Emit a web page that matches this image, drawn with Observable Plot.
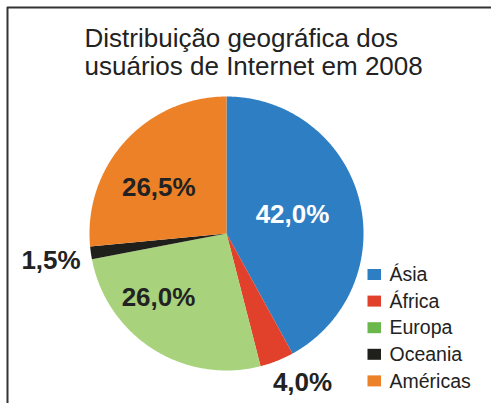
<!DOCTYPE html>
<html>
<head>
<meta charset="utf-8">
<script src="https://cdn.jsdelivr.net/npm/d3@7"></script>
<script src="https://cdn.jsdelivr.net/npm/@observablehq/plot@0.6"></script>
<style>
  html, body { margin: 0; padding: 0; background: #fff; }
  #chart svg { display: block; }
</style>
</head>
<body>
<div id="chart"></div>
<script>
// ---- data ----
const categories = ["Ásia", "África", "Europa", "Oceania", "Américas"];
const values = [42.0, 4.0, 26.0, 1.5, 26.5];
const valueLabels = ["42,0%", "4,0%", "26,0%", "1,5%", "26,5%"];
const titleLines = ["Distribuição geográfica dos", "usuários de Internet em 2008"];

// ---- styles ----
const pieColors = ["#2e7ec3", "#e1402a", "#a9d27c", "#1f1f1b", "#ed8127"];
const legendColors = ["#2e7ec3", "#e1402a", "#6ab84b", "#1f1f1b", "#ed8127"];
const labelColors = ["#ffffff", "#222222", "#222222", "#222222", "#222222"];

// ---- layout (pixel frame -> unit pie coordinates) ----
const W = 491, H = 403, CX = 226, CY = 233, R = 137;
const ux = px => (px - CX) / R;
const uy = py => (CY - py) / R;
const labelPos = [[292, 214], [302, 382], [158, 297], [50.5, 260.5], [158.3, 187.5]];

const arcs = d3.pie().sort(null).value(d => d)(values);
const slicePts = [];
arcs.forEach((a, i) => {
  slicePts.push({k: i, x: 0, y: 0});
  const n = Math.max(2, Math.ceil((a.endAngle - a.startAngle) / (Math.PI / 360)));
  for (let j = 0; j <= n; j++) {
    const t = a.startAngle + (a.endAngle - a.startAngle) * j / n;
    slicePts.push({k: i, x: Math.sin(t), y: Math.cos(t)});
  }
});

const labelData = categories.map((c, i) => ({i, text: valueLabels[i]}));
const legendData = categories.map((c, i) => ({i, name: c}));
const legendRowY = i => 274.5 + 26.6 * i;

const chart = Plot.plot({
  width: W,
  height: H,
  margin: 0,
  x: {domain: [ux(0), ux(W)], axis: null},
  y: {domain: [uy(H), uy(0)], axis: null},
  color: {type: "identity"},
  style: {fontFamily: "'Liberation Sans', Arial, sans-serif", background: "#fff"},
  marks: [
    Plot.ruleY([uy(7)], {x1: ux(7), x2: ux(W), stroke: "#333", strokeWidth: 2}),
    Plot.ruleX([ux(7)], {y1: uy(7), y2: uy(H), stroke: "#333", strokeWidth: 2}),
    Plot.line(slicePts, {x: "x", y: "y", z: "k", fill: d => pieColors[d.k], stroke: null}),
    Plot.text([titleLines.join("\n")], {
      x: ux(84), y: uy(74), text: d => d,
      textAnchor: "start", lineAnchor: "bottom", lineHeight: 1.04, fontSize: 26, fill: "#222"
    }),
    Plot.text(labelData, {
      x: d => ux(labelPos[d.i][0]), y: d => uy(labelPos[d.i][1]), text: "text",
      fontSize: 26, fontWeight: "bold", fill: d => labelColors[d.i]
    }),
    Plot.rect(legendData, {
      x1: ux(367.5), x2: ux(381), y1: d => uy(legendRowY(d.i) - 5.5), y2: d => uy(legendRowY(d.i) + 5.5),
      fill: d => legendColors[d.i]
    }),
    Plot.text(legendData, {
      x: ux(389), y: d => uy(legendRowY(d.i)), text: "name",
      textAnchor: "start", fontSize: 19.5, fill: "#222"
    })
  ]
});
document.getElementById("chart").appendChild(chart);
</script>
</body>
</html>
